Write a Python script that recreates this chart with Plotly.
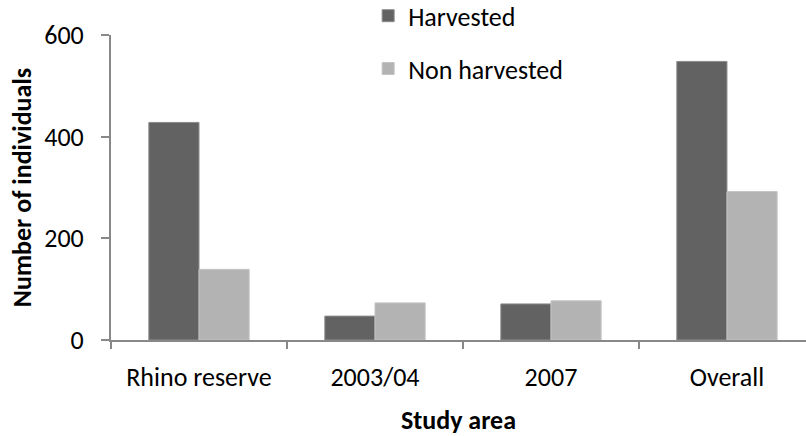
import plotly.graph_objects as go

categories = ["Rhino reserve", "2003/04", "2007", "Overall"]
harvested = [428, 47, 71, 548]
non_harvested = [139, 73, 77, 292]
y_ticks = [0, 200, 400, 600]

FONT = "Carlito, Calibri, Lato, sans-serif"
FS = 26
fig = go.Figure()
fig.add_trace(go.Bar(x=categories, y=harvested, name="Harvested",
                     marker=dict(color="#626262", line=dict(width=1, color="#8c8c8c")),
                     legendgroup="a"))
fig.add_trace(go.Bar(x=categories, y=non_harvested, name="Non harvested",
                     marker=dict(color="#b3b3b3", line=dict(width=1, color="#c4c4c4")),
                     legendgroup="b"))

fig.update_layout(
    width=806, height=436,
    margin=dict(l=111, r=0, t=35, b=96, autoexpand=False),
    plot_bgcolor="white", paper_bgcolor="white",
    font=dict(family=FONT, size=FS, color="black"),
    barmode="group", bargap=0.43, bargroupgap=0,
    showlegend=True,
    legend=dict(x=0.37, xanchor="left", y=1.14, yanchor="top",
                traceorder="grouped", tracegroupgap=16,
                font=dict(size=FS), bgcolor="rgba(0,0,0,0)",
                itemwidth=30),
    xaxis=dict(range=[-0.5, 3.449], showline=True, linecolor="#888888", linewidth=2,
               ticks="outside", tickson="boundaries", ticklen=7, tickcolor="#888888",
               tickwidth=2, ticklabelstandoff=13, automargin=False,
               title=dict(text="<b>Study area</b>", standoff=20, font=dict(size=FS)),
               showgrid=False, zeroline=False),
    yaxis=dict(range=[0, 600], tickvals=y_ticks, showline=True, linecolor="#888888",
               linewidth=2, ticks="outside", ticklen=8, tickcolor="#888888", tickwidth=2,
               ticklabelstandoff=12, automargin=False,
               title=dict(text="<b>Number of individuals</b>", standoff=5, font=dict(size=FS)),
               showgrid=False, zeroline=False),
)
fig.write_html("out.html", config={"displayModeBar": False},
               post_script="document.body.style.margin='0';")
